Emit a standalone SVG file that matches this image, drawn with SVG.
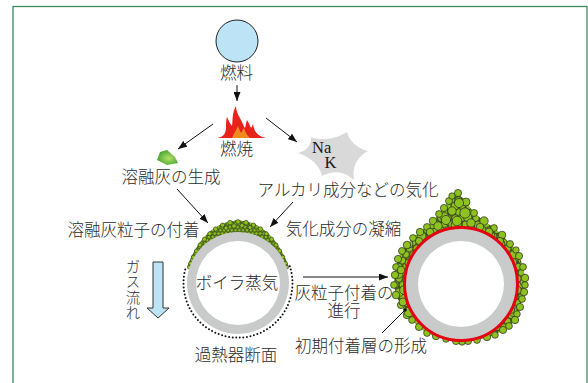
<svg xmlns="http://www.w3.org/2000/svg" width="588" height="383" viewBox="0 0 588 383">
  <style>
    .jp { font-family: "Noto Sans CJK JP", sans-serif; font-size: 16.5px; fill: #2b2b2b; font-weight: 300; }
    .vt { font-size: 14.5px; writing-mode: vertical-rl; letter-spacing: 1px; }
    .mid { text-anchor: middle; }
    .el { font-family: "Liberation Serif", serif; font-size: 16.5px; fill: #1a1a1a; }
    .conn { stroke: #111; stroke-width: 1; fill: none; }
    .arrow { marker-end: url(#head); }
    .p { fill: #8dc21f; stroke: #262626; stroke-width: 0.7; }
    .ps { fill: #8dc21f; stroke: #1e1e1e; stroke-width: 0.5; }
  </style>
  <defs>
    <marker id="head" markerUnits="userSpaceOnUse" markerWidth="9" markerHeight="7" refX="9" refY="3.5" orient="auto">
      <path d="M0,0 L9,3.5 L0,7 Z" fill="#111"/>
    </marker>
    <radialGradient id="gem" cx="0.55" cy="0.55" r="0.6">
      <stop offset="0" stop-color="#b5e06a"/>
      <stop offset="1" stop-color="#3da22c"/>
    </radialGradient>
    <!-- hexagonal packing of deposit particles -->
    <pattern id="grains" patternUnits="userSpaceOnUse" width="7" height="12.12">
      <circle class="p" cx="0" cy="0" r="3.4"/>
      <circle class="p" cx="7" cy="0" r="3.4"/>
      <circle class="p" cx="3.5" cy="6.06" r="3.4"/>
      <circle class="p" cx="0" cy="12.12" r="3.4"/>
      <circle class="p" cx="7" cy="12.12" r="3.4"/>
    </pattern>
    <pattern id="grainsBig" patternUnits="userSpaceOnUse" width="23" height="19" x="2" y="3">
      <circle class="p" cx="5.5" cy="5" r="4.4"/>
      <circle class="p" cx="16" cy="13" r="4"/>
    </pattern>
    <pattern id="fine" patternUnits="userSpaceOnUse" width="3.8" height="6.58">
      <circle class="ps" cx="0" cy="0" r="1.8"/>
      <circle class="ps" cx="3.8" cy="0" r="1.8"/>
      <circle class="ps" cx="1.9" cy="3.29" r="1.8"/>
      <circle class="ps" cx="0" cy="6.58" r="1.8"/>
      <circle class="ps" cx="3.8" cy="6.58" r="1.8"/>
    </pattern>
    <path id="drop" d="M458,193 L466,202 L474,213 L484,221 L494,228 L502,235 L510,244 L516,250 L519,256 L523,267 L525,278 L525,285 L524,292 L522,299 L520,307 L517,314 L515,320 L509,326 L503,330 L495,335 L487,337 L477,340 L468,341 L456,341 L446,339 L436,336 L427,333 L419,327 L412,320 L407,315 L401,305 L396,295 L394,285 L395,275 L396,267 L398,259 L402,251 L407,245 L413,238 L420,232 L427,227 L433,221 L439,214 L444,208 L449,201 L452,196 Z"/>
    <clipPath id="dropClip">
      <use href="#drop"/>
    </clipPath>
  </defs>

  <!-- frame -->
  <rect x="13" y="6.5" width="574" height="400" fill="#fff" stroke="#3d8a5c" stroke-width="1.3"/>

  <!-- fuel -->
  <g id="fuel">
    <circle cx="237" cy="41" r="21" fill="#bde3f7" stroke="#222" stroke-width="1"/>
    <text class="jp mid" x="236.5" y="78.5">燃料</text>
  </g>

  <!-- combustion -->
  <g id="combustion">
    <path d="M217,138 C224,137 226,133 226,127 C226,123 226,120 227,117 C229,121 230,124 232,126 C233,119 232,113 236,106 C236,112 239,116 241,120 C243,124 244,127 245,128 C246,125 246,122 247,120 C249,123 250,126 251,128 C252,127 252,126 253,124 C254,130 256,136 266,138 Z" fill="#e8231c"/>
    <path d="M232,138 C234,133 236,131 238,126 C239,129 240,131 241,133 C242,131 243,130 244,128 C245,132 247,135 250,138 Z" fill="#f08a1f"/>
    <text class="jp mid" x="236.5" y="155">燃焼</text>
  </g>

  <!-- molten ash -->
  <g id="molten-ash">
    <path d="M160,152 L167,150 L175,157 L178,163 L167,165 L157,160 Z" fill="url(#gem)"/>
    <text class="jp mid" x="171" y="183">溶融灰の生成</text>
  </g>

  <!-- vaporised alkali -->
  <g id="alkali">
    <path d="M347,132 C349,140 356,148 368,151 C356,157 352,168 354,180 C344,171 333,170 322,176 C320,166 311,157 298,153 C307,151 312,144 311,137 C322,141 336,139 347,132 Z" fill="#d9d9d9"/>
    <text class="el" x="312" y="153">Na<tspan x="324.5" y="168">K</tspan></text>
    <text class="jp mid" x="348" y="196">アルカリ成分などの気化</text>
  </g>

  <!-- gas flow -->
  <g id="gas-flow">
    <path d="M153,262 H163 V308 H169 L158,318 L147,308 H153 Z" fill="#bde3f7" stroke="#333" stroke-width="1"/>
    <text class="jp vt" x="133" y="259">ガス流れ</text>
  </g>

  <!-- superheater tube, initial state -->
  <g id="tube-initial">
    <path d="M190.45,267.55 A50,50 0 0 1 285.55,267.55 L288.5,266.6 L284.4,256.2 L277.2,243.8 L267.3,232.3 L254,223.4 L238,220 L222,223.4 L208.7,232.3 L198.8,243.8 L191.6,256.2 L187.5,266.6 Z" fill="#5f8f12"/>
    <path d="M190.45,267.55 A50,50 0 0 1 285.55,267.55 L288.5,266.6 L284.4,256.2 L277.2,243.8 L267.3,232.3 L254,223.4 L238,220 L222,223.4 L208.7,232.3 L198.8,243.8 L191.6,256.2 L187.5,266.6 Z" fill="url(#fine)"/>
    <g class="ps">
      <circle cx="189.2" cy="267.1" r="1.9"/><circle cx="190.5" cy="263.3" r="1.9"/>
      <circle cx="193.1" cy="257.1" r="1.9"/><circle cx="196.3" cy="251" r="2"/>
      <circle cx="200" cy="245" r="2"/><circle cx="204.4" cy="239.2" r="2.1"/>
      <circle cx="209.6" cy="233.8" r="2"/><circle cx="215.6" cy="229" r="2.2"/>
      <circle cx="222.5" cy="225.1" r="2.1"/><circle cx="230" cy="222.6" r="2.3"/>
      <circle cx="238" cy="221.8" r="2.2"/><circle cx="246" cy="222.6" r="2.3"/>
      <circle cx="253.5" cy="225.1" r="2.1"/><circle cx="260.4" cy="229" r="2.2"/>
      <circle cx="266.4" cy="233.8" r="2"/><circle cx="271.6" cy="239.2" r="2.1"/>
      <circle cx="276" cy="245" r="2"/><circle cx="279.7" cy="251" r="2"/>
      <circle cx="282.9" cy="257.1" r="1.9"/><circle cx="285.5" cy="263.3" r="1.9"/>
      <circle cx="286.8" cy="267.1" r="1.9"/>
      <circle cx="234" cy="226" r="2.2"/><circle cx="242" cy="225.5" r="2.1"/>
      <circle cx="226" cy="228" r="2"/><circle cx="250" cy="227.5" r="2"/>
    </g>
    <path d="M289.8,266.2 A54.5,54.5 0 1 1 186.2,266.2" fill="none" stroke="#111" stroke-width="2" stroke-linecap="round" stroke-dasharray="0 3.6"/>
    <circle cx="238" cy="283" r="51" fill="#c9caca"/>
    <circle cx="238" cy="283" r="42" fill="#fff"/>
    <text class="jp mid" x="237" y="289">ボイラ蒸気</text>
    <text class="jp mid" x="236" y="361">過熱器断面</text>
  </g>

  <!-- superheater tube, grown deposit -->
  <g id="tube-deposit">
    <use href="#drop" fill="#5f8f12"/>
    <rect x="385" y="185" width="150" height="165" fill="url(#grains)" clip-path="url(#dropClip)"/>
    <rect x="385" y="185" width="150" height="165" fill="url(#grainsBig)" clip-path="url(#dropClip)"/>
    <g class="p">
      <circle cx="458" cy="193" r="3.6"/><circle cx="466" cy="202" r="4"/>
      <circle cx="474" cy="213" r="3.5"/><circle cx="484" cy="221" r="4.2"/>
      <circle cx="494" cy="228" r="3.4"/><circle cx="502" cy="235" r="3.8"/>
      <circle cx="510" cy="244" r="3.5"/><circle cx="516" cy="250" r="3.2"/>
      <circle cx="519" cy="256" r="3.6"/><circle cx="523" cy="267" r="3.4"/>
      <circle cx="525" cy="278" r="3.8"/><circle cx="525" cy="285" r="3.3"/>
      <circle cx="524" cy="292" r="3.7"/><circle cx="522" cy="299" r="3.4"/>
      <circle cx="520" cy="307" r="3.6"/><circle cx="517" cy="314" r="3.3"/>
      <circle cx="515" cy="320" r="3.7"/><circle cx="509" cy="326" r="3.4"/>
      <circle cx="503" cy="330" r="3.6"/><circle cx="495" cy="335" r="3.3"/>
      <circle cx="487" cy="337" r="3.7"/><circle cx="477" cy="340" r="3.4"/>
      <circle cx="468" cy="341" r="3.6"/><circle cx="462" cy="342" r="3.2"/>
      <circle cx="456" cy="341" r="3.6"/><circle cx="446" cy="339" r="3.3"/>
      <circle cx="436" cy="336" r="3.7"/><circle cx="427" cy="333" r="3.4"/>
      <circle cx="419" cy="327" r="3.6"/><circle cx="412" cy="320" r="3.4"/>
      <circle cx="407" cy="315" r="3.8"/><circle cx="401" cy="305" r="3.6"/>
      <circle cx="396" cy="295" r="3.8"/><circle cx="394" cy="285" r="3.4"/>
      <circle cx="395" cy="275" r="3.7"/><circle cx="396" cy="267" r="3.4"/>
      <circle cx="398" cy="259" r="3.6"/><circle cx="402" cy="251" r="3.5"/>
      <circle cx="407" cy="245" r="3.8"/><circle cx="413" cy="238" r="3.4"/>
      <circle cx="420" cy="232" r="3.7"/><circle cx="427" cy="227" r="3.5"/>
      <circle cx="433" cy="221" r="3.8"/><circle cx="439" cy="214" r="3.4"/>
      <circle cx="444" cy="208" r="3.6"/><circle cx="449" cy="201" r="3.5"/>
      <circle cx="452" cy="196" r="3.2"/>
      <!-- larger grains in the thick upper layer -->
      <circle cx="459" cy="203" r="4.6"/><circle cx="465" cy="213" r="5.2"/>
      <circle cx="452" cy="211" r="4.2"/><circle cx="446" cy="220" r="4.6"/>
      <circle cx="471" cy="223" r="4.2"/><circle cx="457" cy="221" r="4.8"/>
      <circle cx="480" cy="227" r="3.8"/><circle cx="438" cy="226" r="4.2"/>
      <circle cx="489" cy="232" r="4"/><circle cx="430" cy="232" r="3.8"/>
      <circle cx="500" cy="241" r="3.6"/><circle cx="419" cy="241" r="3.6"/>
      <circle cx="404" cy="290" r="4.4"/><circle cx="403" cy="302" r="4"/>
      <circle cx="401" cy="270" r="3.8"/><circle cx="517" cy="290" r="4.2"/>
      <circle cx="513" cy="262" r="3.8"/><circle cx="511" cy="310" r="3.6"/>
      <circle cx="409" cy="312" r="4.8"/>
    </g>
    <circle cx="461" cy="284" r="56.5" fill="#c9caca" stroke="#e50012" stroke-width="3"/>
    <circle cx="461" cy="284" r="43" fill="#fff"/>
  </g>

  <!-- stage labels -->
  <g id="labels">
    <text class="jp mid" x="133.5" y="236">溶融灰粒子の付着</text>
    <text class="jp mid" x="343.5" y="235">気化成分の凝縮</text>
    <text class="jp mid" x="344" y="299">灰粒子付着の<tspan x="344" dy="18">進行</tspan></text>
    <text class="jp mid" x="361" y="352">初期付着層の形成</text>
  </g>

  <!-- connectors -->
  <g id="connectors">
    <line class="conn arrow" x1="237" y1="85" x2="237" y2="101"/>
    <line class="conn arrow" x1="213" y1="124" x2="178" y2="149"/>
    <line class="conn arrow" x1="266" y1="118" x2="297" y2="142"/>
    <line class="conn arrow" x1="177" y1="189" x2="208" y2="223"/>
    <line class="conn arrow" x1="293" y1="202" x2="270" y2="227"/>
    <line class="conn arrow" x1="303" y1="277" x2="388" y2="277"/>
    <line class="conn" x1="382" y1="333" x2="405" y2="310"/>
    <circle cx="405" cy="310" r="1.8" fill="#111"/>
  </g>
</svg>
